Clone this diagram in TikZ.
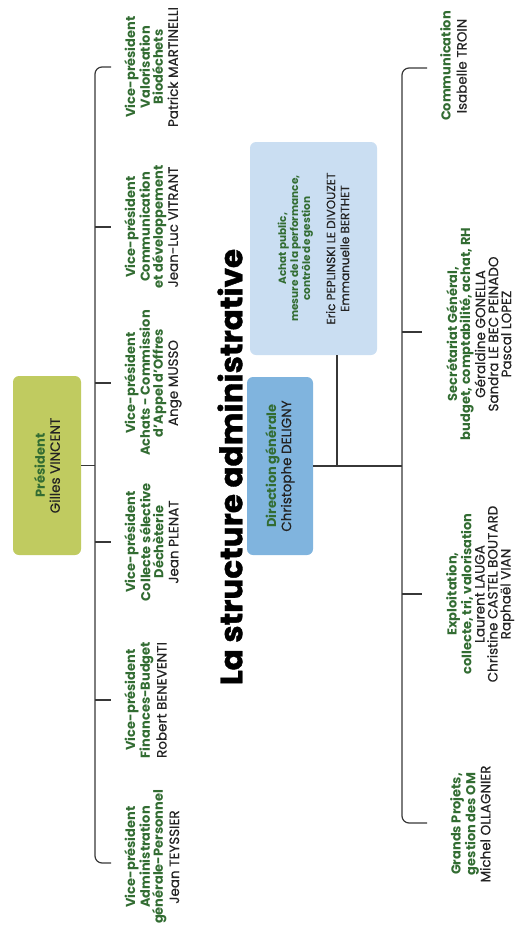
\documentclass[tikz,border=0pt]{standalone}
\usepackage{fontspec}
\setmainfont{Poppins}
\newfontfamily\titlefont{Poppins}[BoldFeatures={FakeBold=1.2}]
\newfontfamily\namefont{Poppins}[FakeBold=0.5]
\definecolor{titlec}{RGB}{50,108,50}
\definecolor{namec}{RGB}{35,35,35}
\definecolor{linec}{RGB}{55,55,55}
\definecolor{presfill}{RGB}{192,203,96}
\definecolor{dgfill}{RGB}{128,180,222}
\definecolor{acfill}{RGB}{202,222,242}
\newcommand\myT[1]{{\bfseries\color{titlec}#1}}
\newcommand\myN[1]{{\namefont\fontsize{13.5}{13.5}\selectfont\color{namec}#1}}
\begin{document}
\begin{tikzpicture}[x=1pt,y=-1pt,
  lbl/.style={rotate=90, anchor=north, align=center, inner sep=0pt,
    font=\fontsize{13}{13}\selectfont, text=namec},
  box/.style={rotate=90, rounded corners=6pt, align=center, inner sep=0pt, text=namec},
  ln/.style={draw=linec, line width=1.2pt},
  bracket/.style={ln, rounded corners=7pt}]
\useasboundingbox (0,0) rectangle (517,926);

% President
\node[box, fill=presfill, minimum width=179pt, minimum height=68pt,
  font=\fontsize{13}{15}\selectfont] (pres) at (47,465.5)
  {\myT{Président}\\ {\namefont\fontsize{13.5}{15}\selectfont Gilles VINCENT}};

% VP bracket
\coordinate (b1) at (95,67);
\coordinate (b6) at (95,863);
\coordinate (t1) at (111,67);
\coordinate (t6) at (111,863);
\draw[bracket] (t1) -- (b1) -- (b6) -- (t6);
\foreach \yy/\nm in {227/2,383/3,542/4,700/5}{
  \coordinate (bb\nm) at (95,\yy);
  \coordinate (tt\nm) at (111,\yy);
  \draw[ln] (bb\nm) -- (tt\nm);
}
\draw[ln] (pres.south) -- (pres.south -| b1);

% VPs
\node[lbl] (vp1) at (124,67) {\myT{Vice-président}\\\myT{Valorisation}\\\myT{Biodéchets}\\[2pt]\myN{Patrick MARTINELLI}};
\node[lbl] (vp2) at (124,227) {\myT{Vice-président}\\\myT{Communication}\\\myT{et développement}\\[2pt]\myN{Jean-Luc VITRANT}};
\node[lbl] (vp3) at (124,383) {\myT{Vice-président}\\\myT{Achats - Commission}\\\myT{d'Appel d'Offres}\\[2pt]\myN{Ange MUSSO}};
\node[lbl] (vp4) at (124,542) {\myT{Vice-président}\\\myT{Collecte sélective}\\\myT{Déchèterie}\\[2pt]\myN{Jean PLENAT}};
\node[lbl] (vp5) at (124,700) {\myT{Vice-président}\\\myT{Finances-Budget}\\[2pt]\myN{Robert BENEVENTI}};
\node[lbl] (vp6) at (124,857) {\myT{Vice-président}\\\myT{Administration}\\\myT{générale-Personnel}\\[2pt]\myN{Jean TEYSSIER}};

% Title
\node[rotate=90, inner sep=0pt, font=\fontsize{31}{32}\selectfont\titlefont\bfseries, text=black] (title) at (230,467) {La structure administrative};

% Direction generale
\node[box, fill=dgfill, minimum width=178pt, minimum height=66pt,
  font=\fontsize{13}{15}\selectfont] (dg) at (280,466)
  {\myT{Direction générale}\\ {\namefont\fontsize{13.5}{15}\selectfont Christophe DELIGNY}};

% Achat box
\node[box, fill=acfill, minimum width=213pt, minimum height=127pt,
  font=\fontsize{10.5}{12}\selectfont] (ac) at (313.5,248.5)
  {\myT{Achat public,}\\\myT{mesure de la performance,}\\\myT{contrôle de gestion}\\[12pt]
   {\namefont\fontsize{12}{15}\selectfont Eric PEPLINSKI LE DIVOUZET}\\[2pt]
   {\namefont\fontsize{12}{15}\selectfont Emmanuelle BERTHET}};

% children bracket
\coordinate (c1b) at (402,68);
\coordinate (c4b) at (402,823);
\coordinate (c1t) at (427,68);
\coordinate (c4t) at (427,823);
\coordinate (cj) at (402,466);
\coordinate (aj) at (337,466);
\draw[bracket] (c1t) -- (c1b) -- (c4b) -- (c4t);
\coordinate (c2b) at (402,332);
\coordinate (c2t) at (422,332);
\coordinate (c3b) at (402,594);
\coordinate (c3t) at (422,594);
\draw[ln] (c2b) -- (c2t);
\draw[ln] (c3b) -- (c3t);
\draw[ln] (dg.south) -- (dg.south -| cj);
\draw[ln] (aj |- ac.west) -- (aj);

% children
\node[lbl] (c1) at (440,66) {\myT{Communication}\\[3pt]\myN{Isabelle TROIN}};
\node[lbl] (c2) at (446,334) {\myT{Secrétariat Général,}\\\myT{budget, comptabilité, achat, RH}\\\myN{Géraldine GONELLA}\\\myN{Sandra LE BEC PEINADO}\\\myN{Pascal LOPEZ}};
\node[lbl] (c3) at (446,594) {\myT{Exploitation,}\\\myT{collecte, tri, valorisation}\\\myN{Laurent LAUGA}\\\myN{Christine CASTEL BOUTARD}\\\myN{Raphaël VIAN}};
\node[lbl] (c4) at (450,824) {\myT{Grands Projets,}\\\myT{gestion des OM}\\\myN{Michel OLLAGNIER}};
\end{tikzpicture}
\end{document}
